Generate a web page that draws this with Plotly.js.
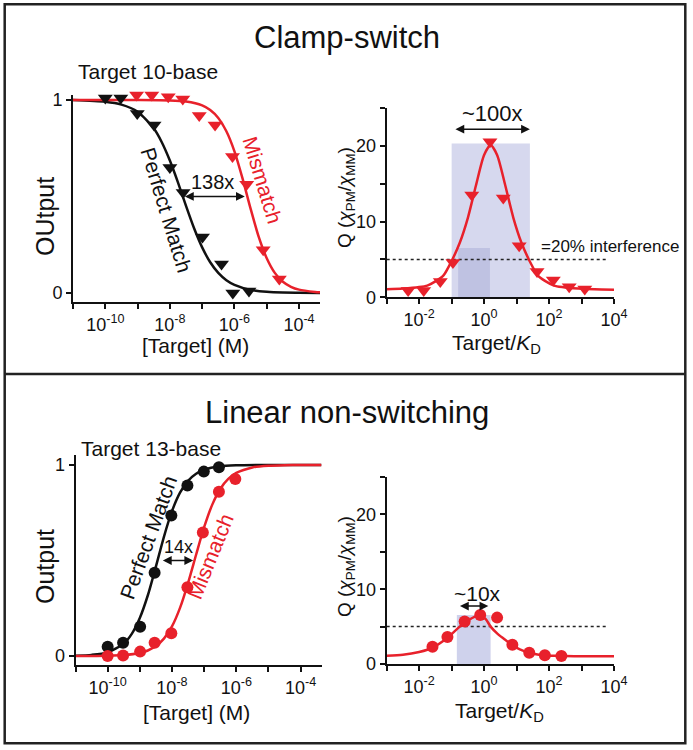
<!DOCTYPE html>
<html><head><meta charset="utf-8">
<script src="https://cdn.plot.ly/plotly-3.0.1.min.js"></script>
<style>html,body{margin:0;padding:0;background:#fff;} #chart{width:693px;height:750px;}</style>
</head><body><div id="chart"></div>
<script>
// ===== DATA (x values given as log10 exponents) =====
// Clamp-switch, Target 10-base (top-left)
const tlPerfectLogX = [-10.0, -9.52, -9.01, -8.49, -8.0, -7.59, -6.99, -6.4, -6.05, -5.55];
const tlPerfectY    = [1.01, 1.01, 0.93, 0.87, 0.65, 0.52, 0.29, 0.15, 0.0, 0.01];
const tlMismatchLogX = [-9.03, -8.56, -8.05, -7.6, -7.09, -6.6, -6.06, -5.62, -5.11, -4.61];
const tlMismatchY    = [1.026, 1.026, 1.017, 1.005, 0.92, 0.87, 0.707, 0.564, 0.224, 0.072];
const tlPerfectFitLogX = [-11, -10, -9.5, -9, -8.5, -8.25, -8, -7.75, -7.5, -7.25, -7, -6.75, -6.5, -6.25, -6, -5.5, -5, -4.5, -4, -3.35];
const tlPerfectFitY    = [1.0, 0.991, 0.976, 0.939, 0.853, 0.781, 0.686, 0.573, 0.451, 0.335, 0.236, 0.159, 0.104, 0.066, 0.042, 0.016, 0.006, 0.002, 0.001, 0.0];
const tlMismatchFitLogX = [-11, -9, -8, -7.5, -7, -6.75, -6.5, -6.25, -6, -5.75, -5.5, -5.25, -5, -4.75, -4.5, -4.25, -4, -3.5, -3.35];
const tlMismatchFitY    = [1.0, 1.0, 0.998, 0.992, 0.972, 0.948, 0.907, 0.838, 0.734, 0.594, 0.437, 0.292, 0.18, 0.104, 0.058, 0.032, 0.017, 0.005, 0.003];

// Clamp-switch, Q vs Target/KD (top-right)
const trLogX = [-2.34, -1.86, -1.35, -0.96, -0.38, 0.18, 0.59, 1.08, 1.63, 2.13, 2.62, 3.1];
const trQ    = [0.9, 0.9, 2.1, 4.6, 13.5, 20.55, 13.1, 6.8, 3.4, 2.3, 1.4, 1.1];
const trFitLogX = [-3, -2.5, -2, -1.75, -1.5, -1.25, -1, -0.75, -0.5, -0.25, 0, 0.2, 0.4, 0.65, 0.9, 1.15, 1.4, 1.65, 1.9, 2.15, 2.4, 2.9, 3.4, 4];
const trFitQ    = [1.05, 1.15, 1.35, 1.55, 2.1, 2.9, 4.8, 7.2, 10.5, 14.8, 18.8, 20.1, 18.8, 14.8, 10.5, 7.2, 4.8, 2.9, 2.1, 1.55, 1.35, 1.15, 1.05, 1.0];

// Linear non-switching, Target 13-base (bottom-left)
const blPerfectLogX = [-10.0, -9.52, -8.99, -8.54, -8.02, -7.52, -7.01, -6.54];
const blPerfectY    = [0.049, 0.07, 0.153, 0.436, 0.735, 0.892, 0.965, 0.988];
const blMismatchLogX = [-10.0, -9.52, -8.99, -8.54, -8.02, -7.52, -7.04, -6.54, -6.03];
const blMismatchY    = [0.0, 0.003, 0.023, 0.07, 0.119, 0.36, 0.646, 0.86, 0.927];
const blPerfectFitLogX = [-11, -10.5, -10, -9.5, -9.25, -9, -8.75, -8.5, -8.25, -8, -7.75, -7.5, -7.25, -7, -6.5, -6, -5, -3.35];
const blPerfectFitY    = [0.002, 0.006, 0.019, 0.065, 0.116, 0.199, 0.318, 0.468, 0.624, 0.758, 0.855, 0.917, 0.954, 0.975, 0.993, 0.998, 1.0, 1.0];
const blMismatchFitLogX = [-11, -10, -9.5, -9, -8.75, -8.5, -8.25, -8, -7.75, -7.5, -7.25, -7, -6.75, -6.5, -6.25, -6, -5.5, -5, -4.5, -4, -3.35];
const blMismatchFitY    = [0.0, 0.0015, 0.005, 0.016, 0.029, 0.052, 0.091, 0.155, 0.252, 0.382, 0.53, 0.674, 0.791, 0.874, 0.927, 0.958, 0.987, 0.996, 0.999, 1.0, 1.0];

// Linear non-switching, Q vs Target/KD (bottom-right)
const brLogX = [-1.59, -1.13, -0.6, -0.12, 0.4, 0.87, 1.39, 1.87, 2.38];
const brQ    = [2.3, 3.6, 5.67, 6.55, 6.2, 2.56, 1.51, 1.16, 1.07];
const brFitLogX = [-3, -2.5, -2, -1.75, -1.5, -1.25, -1, -0.75, -0.5, -0.3, -0.12, 0.05, 0.2, 0.4, 0.6, 0.87, 1.1, 1.39, 1.6, 1.87, 2.2, 2.5, 3, 4];
const brFitQ    = [1.1, 1.25, 1.6, 1.9, 2.4, 3.1, 4.0, 5.0, 5.8, 6.3, 6.5, 6.0, 5.0, 4.1, 3.4, 2.5, 1.95, 1.5, 1.3, 1.15, 1.1, 1.06, 1.05, 1.05];

// Shaded windows [logX0, logX1, Q0, Q1] and interference threshold
const trWideWindow   = [-1.0, 1.41, 0, 20.3];
const trNarrowWindow = [-0.8, 0.18, 0, 6.5];
const brWindow       = [-0.84, 0.2, 0, 6.55];
const interferenceQ  = 5;
const thresholdLogX  = [-3, 3.8];

// Tick labels
const concTickExp = [-11, -10, -9, -8, -7, -6, -5, -4];
const concTickText = ['', '10<sup>-10</sup>', '', '10<sup>-8</sup>', '', '10<sup>-6</sup>', '', '10<sup>-4</sup>'];
const ratioTickExp = [-3, -2, -1, 0, 1, 2, 3, 4];
const ratioTickText = ['', '10<sup>-2</sup>', '', '10<sup>0</sup>', '', '10<sup>2</sup>', '', '10<sup>4</sup>'];
const qTickVals = [0, 5, 10, 15, 20, 25];
const qTickText = ['0', '', '10', '', '20', ''];
const outTickVals = [0, 1];
const outTickText = ['0', '1'];

// ===== HELPERS =====
const W = 693, H = 750;
const px = v => v / W, py = v => 1 - v / H;
const pow10 = a => a.map(e => Math.pow(10, e));
const RED = '#e8212b', BLK = '#111111';
const FONT = 'Liberation Sans, Arial, sans-serif';

function rectTrace(win, color, xa, ya) {
  const x0 = Math.pow(10, win[0]), x1 = Math.pow(10, win[1]);
  return {x: [x0, x1, x1, x0, x0], y: [win[2], win[2], win[3], win[3], win[2]],
    xaxis: xa, yaxis: ya, mode: 'lines', fill: 'toself', fillcolor: color,
    line: {width: 0, color: color}, hoverinfo: 'skip', showlegend: false};
}
function lineTrace(lx, y, color, xa, ya) {
  return {x: pow10(lx), y: y, xaxis: xa, yaxis: ya, mode: 'lines',
    line: {color: color, width: 2.5, shape: 'spline', smoothing: 0.7}, showlegend: false};
}
function markTrace(lx, y, color, sym, size, xa, ya) {
  return {x: pow10(lx), y: y, xaxis: xa, yaxis: ya, mode: 'markers', cliponaxis: false,
    marker: {symbol: sym, size: size, color: color, line: {width: 0}}, showlegend: false};
}
function dotTrace(xa, ya) {
  return {x: pow10(thresholdLogX), y: [interferenceQ, interferenceQ], xaxis: xa, yaxis: ya,
    mode: 'lines', line: {color: '#222', width: 1.5, dash: 'dot'}, showlegend: false};
}

const traces = [
  lineTrace(tlPerfectFitLogX, tlPerfectFitY, BLK, 'x', 'y'),
  lineTrace(tlMismatchFitLogX, tlMismatchFitY, RED, 'x', 'y'),
  markTrace(tlPerfectLogX, tlPerfectY, BLK, 'triangle-down', 13, 'x', 'y'),
  markTrace(tlMismatchLogX, tlMismatchY, RED, 'triangle-down', 13, 'x', 'y'),

  rectTrace(trWideWindow, '#d6d8ee', 'x2', 'y2'),
  rectTrace(trNarrowWindow, '#bfc2e2', 'x2', 'y2'),
  dotTrace('x2', 'y2'),
  lineTrace(trFitLogX, trFitQ, RED, 'x2', 'y2'),
  markTrace(trLogX, trQ, RED, 'triangle-down', 13, 'x2', 'y2'),

  lineTrace(blPerfectFitLogX, blPerfectFitY, BLK, 'x3', 'y3'),
  lineTrace(blMismatchFitLogX, blMismatchFitY, RED, 'x3', 'y3'),
  markTrace(blPerfectLogX, blPerfectY, BLK, 'circle', 12, 'x3', 'y3'),
  markTrace(blMismatchLogX, blMismatchY, RED, 'circle', 12, 'x3', 'y3'),

  rectTrace(brWindow, '#cfd2ec', 'x4', 'y4'),
  dotTrace('x4', 'y4'),
  lineTrace(brFitLogX, brFitQ, RED, 'x4', 'y4'),
  markTrace(brLogX, brQ, RED, 'circle', 12, 'x4', 'y4'),
];

const axBase = {showgrid: false, zeroline: false, showline: true, linecolor: BLK, linewidth: 2,
  ticks: 'outside', ticklen: 5, tickwidth: 2, tickcolor: BLK, tickmode: 'array',
  tickfont: {family: FONT, size: 18, color: BLK}, fixedrange: true};
const logX = (dom, range, anchor, exps, txt) => Object.assign({}, axBase, {type: 'log', domain: dom,
  range: range, anchor: anchor, tickvals: pow10(exps), ticktext: txt});
const linY = (dom, range, anchor, vals, txt) => Object.assign({}, axBase, {domain: dom,
  range: range, anchor: anchor, tickvals: vals, ticktext: txt});

function txt(text, x, y, size, opts) {
  return Object.assign({text: text, xref: 'paper', yref: 'paper', x: px(x), y: py(y),
    xanchor: 'center', yanchor: 'middle', showarrow: false,
    font: {family: FONT, size: size, color: BLK}}, opts || {});
}
function arrow(xa, ya, lx0, lx1, yv) {
  return {xref: xa, yref: ya, axref: xa, ayref: ya, x: lx1, y: yv, ax: lx0, ay: yv, text: '',
    showarrow: true, arrowhead: 2, startarrowhead: 2, arrowside: 'end+start', arrowsize: 1.1,
    arrowwidth: 1.6, arrowcolor: BLK, standoff: 0, startstandoff: 0};
}
const QTITLE = 'Q (<i>χ</i><sub>PM</sub>/<i>χ</i><sub>MM</sub>)';
const KTITLE = 'Target/<i>K</i><sub>D</sub>';

const annotations = [
  txt('Clamp-switch', 347, 37, 31),
  txt('Linear non-switching', 347, 412, 31),
  txt('Target 10-base', 148, 72, 21),
  txt('Target 13-base', 151, 448, 21),
  txt('OUtput', 45, 216, 25, {textangle: -90}),
  txt('Output', 45, 566, 25, {textangle: -90}),
  txt('[Target] (M)', 195, 345, 21),
  txt('[Target] (M)', 196, 712, 21),
  txt(QTITLE, 346, 198, 19, {textangle: -90}),
  txt(QTITLE, 346, 567, 19, {textangle: -90}),
  txt(KTITLE, 497, 344, 21),
  txt(KTITLE, 499, 712, 21),
  txt('Perfect Match', 167, 210, 21, {textangle: 73}),
  txt('Mismatch', 263, 180, 21, {textangle: 73, font: {family: FONT, size: 21, color: RED}}),
  txt('138x', 212, 182, 20),
  txt('Perfect Match', 148, 537, 21, {textangle: -70}),
  txt('Mismatch', 210, 556, 21, {textangle: -68, font: {family: FONT, size: 21, color: RED}}),
  txt('14x', 178, 547, 18),
  txt('~100x', 492, 113, 22),
  txt('=20% interference', 539, 246, 17, {xanchor: 'left'}),
  txt('~10x', 477, 593, 21),
  arrow('x', 'y', -7.58, -5.68, 0.5),
  arrow('x3', 'y3', -8.33, -7.34, 0.5),
  arrow('x2', 'y2', -0.93, 1.41, 22.2),
  arrow('x4', 'y4', -0.79, 0.13, 7.75),
];

const shapes = [
  {type: 'rect', xref: 'paper', yref: 'paper', x0: px(4.7), x1: px(685.3), y0: py(743.3), y1: py(4.3),
   line: {color: '#222', width: 2.5}},
  {type: 'line', xref: 'paper', yref: 'paper', x0: px(4.7), x1: px(685.3), y0: py(374), y1: py(374),
   line: {color: '#222', width: 2.5}},
];

const layout = {
  width: W, height: H, margin: {l: 0, r: 0, t: 0, b: 0},
  paper_bgcolor: '#fff', plot_bgcolor: 'rgba(0,0,0,0)', showlegend: false,
  font: {family: FONT, color: BLK},
  xaxis:  logX([px(73), px(320)], [-11, -3.35], 'y', concTickExp, concTickText),
  yaxis:  linY([py(302), py(95)], [-0.047, 1.026], 'x', outTickVals, outTickText),
  xaxis2: logX([px(386.7), px(614)], [-3, 4], 'y2', ratioTickExp, ratioTickText),
  yaxis2: linY([py(297.3), py(108)], [0, 25], 'x2', qTickVals, qTickText),
  xaxis3: logX([px(75.5), px(321.5)], [-11, -3.35], 'y3', concTickExp, concTickText),
  yaxis3: linY([py(665), py(455)], [-0.047, 1.052], 'x3', outTickVals, outTickText),
  xaxis4: logX([px(386.7), px(614)], [-3, 4], 'y4', ratioTickExp, ratioTickText),
  yaxis4: linY([py(664), py(477)], [0, 25], 'x4', qTickVals, qTickText),
  annotations: annotations, shapes: shapes,
};

Plotly.newPlot('chart', traces, layout, {staticPlot: true, displayModeBar: false});
</script>
</body></html>
